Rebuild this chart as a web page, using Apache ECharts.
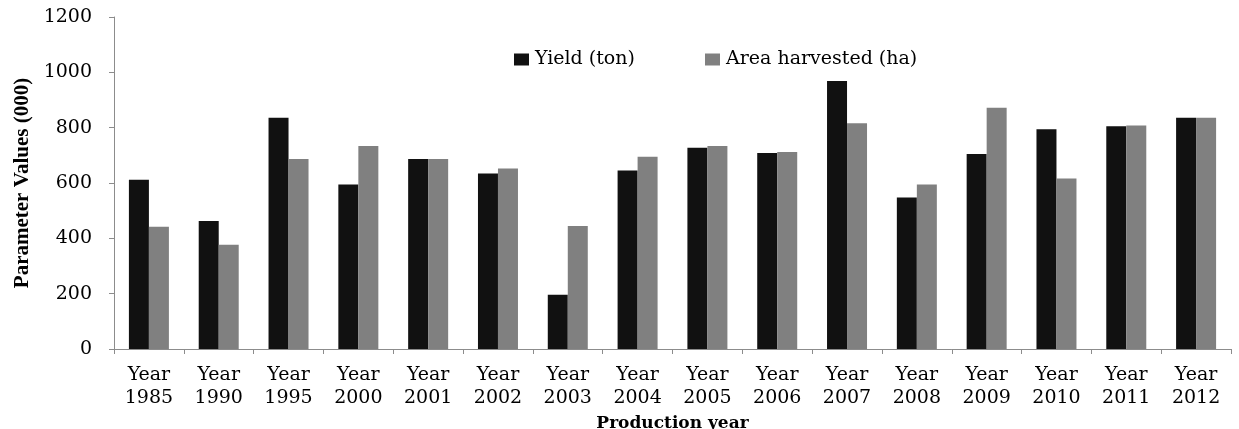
<!DOCTYPE html>
<html>
<head>
<meta charset="utf-8">
<script src="https://cdn.jsdelivr.net/npm/echarts@6/dist/echarts.min.js"></script>
<style>
  html, body { margin: 0; padding: 0; background: #fff; }
  #chart { width: 1239px; height: 429px; }
</style>
</head>
<body>
<div id="chart"></div>
<script>
var years = ['1985', '1990', '1995', '2000', '2001', '2002', '2003', '2004', '2005', '2006', '2007', '2008', '2009', '2010', '2011', '2012']
var yieldTon = [612, 463, 836, 595, 687, 634, 196, 645, 727, 708, 969, 548, 705, 794, 805, 836]
var areaHa = [442, 377, 687, 734, 687, 652, 445, 695, 734, 712, 816, 595, 872, 616, 808, 836]
var yTicks = [0, 200, 400, 600, 800, 1000, 1200]

// the original text is wide, so a wide serif is used for it
var wide = '"DejaVu Serif", serif'
var narrow = '"Liberation Serif", "Times New Roman", serif'
var axisGrey = '#8c8c8c'

function legendAt (left, name) {
  return {
    left: left,
    top: 45,
    itemWidth: 15,
    itemHeight: 12,
    itemGap: 0,
    icon: 'rect',
    textStyle: { fontFamily: wide, fontSize: 19, color: '#000', padding: [0, 0, 0, 1] },
    data: [name]
  }
}

var chart = echarts.init(document.getElementById('chart'))
var option = {
  animation: false,
  textStyle: { fontFamily: wide },
  legend: [legendAt(509, 'Yield (ton)'), legendAt(700, 'Area harvested (ha)')],
  grid: { left: 114, right: 8, top: 17, bottom: 80, outerBoundsMode: 'none' },
  xAxis: {
    type: 'category',
    data: years,
    name: 'Production year',
    nameLocation: 'middle',
    nameGap: 60,
    nameTextStyle: { fontFamily: wide, fontSize: 17, fontWeight: 'bold', color: '#000' },
    axisLine: { lineStyle: { color: axisGrey, width: 1 } },
    axisTick: { show: true, length: 5, lineStyle: { color: axisGrey } },
    axisLabel: {
      interval: 0,
      margin: 15,
      fontFamily: wide,
      fontSize: 19,
      lineHeight: 23,
      color: '#000',
      formatter: function (v) { return 'Year\n' + v }
    }
  },
  yAxis: {
    type: 'value',
    min: yTicks[0],
    max: yTicks[yTicks.length - 1],
    interval: 200,
    name: 'Parameter Values (000)',
    nameLocation: 'middle',
    nameGap: 80,
    nameTextStyle: { fontFamily: narrow, fontSize: 21, fontWeight: 'bold', color: '#000' },
    axisLine: { show: true, lineStyle: { color: axisGrey, width: 1 } },
    axisTick: { show: true, length: 5, lineStyle: { color: axisGrey } },
    splitLine: { show: false },
    axisLabel: {
      margin: 22,
      fontFamily: wide,
      fontSize: 19,
      color: '#000',
      formatter: function (v) { return String(v) }
    }
  },
  series: [
    {
      name: 'Yield (ton)',
      type: 'bar',
      data: yieldTon,
      barWidth: 20,
      barGap: '0%',
      itemStyle: { color: '#111111' }
    },
    {
      name: 'Area harvested (ha)',
      type: 'bar',
      data: areaHa,
      barWidth: 20,
      barGap: '0%',
      itemStyle: { color: '#808080' }
    }
  ]
}
chart.setOption(option)
</script>
</body>
</html>
